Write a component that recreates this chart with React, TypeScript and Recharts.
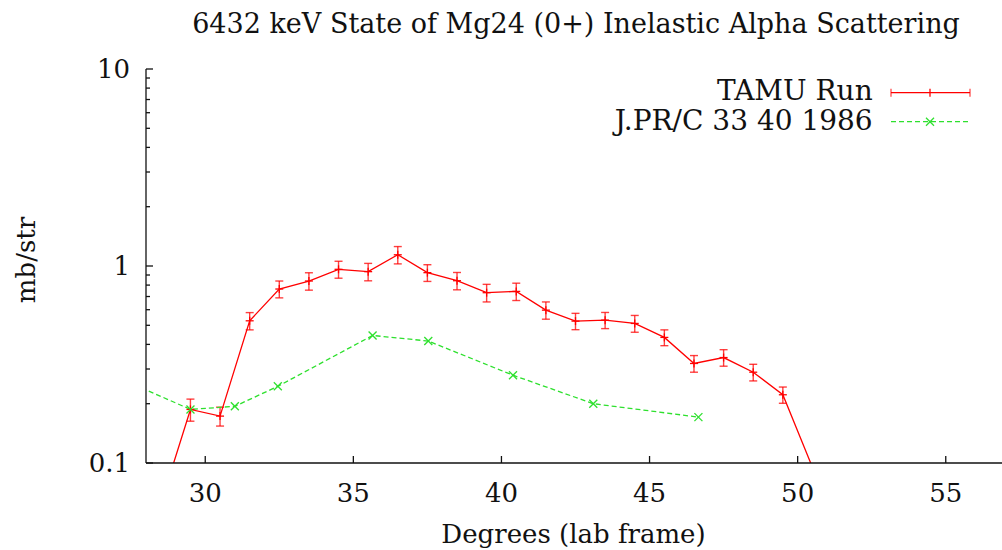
import React from "react";
import { ComposedChart, Line, XAxis, YAxis, ErrorBar, Legend, Label } from "recharts";

// TAMU run, cross sections (mb/str)
const tamuAngle = [28.5, 29.5, 30.5, 31.5, 32.5, 33.5, 34.5, 35.5, 36.5, 37.5, 38.5, 39.5, 40.5, 41.5, 42.5, 43.5, 44.5, 45.5, 46.5, 47.5, 48.5, 49.5, 50.5];
const tamuValue = [0.062, 0.187, 0.173, 0.527, 0.764, 0.839, 0.962, 0.936, 1.14, 0.925, 0.842, 0.732, 0.743, 0.597, 0.525, 0.531, 0.511, 0.434, 0.32, 0.343, 0.289, 0.222, 0.095];
// error bars of the two points below the frame are not visible
const tamuError = [null, 0.024, 0.019, 0.053, 0.075, 0.085, 0.095, 0.095, 0.115, 0.09, 0.085, 0.075, 0.075, 0.06, 0.05, 0.05, 0.05, 0.04, 0.031, 0.033, 0.028, 0.021, null];

// J.PR/C 33 40 1986 reference data
const jprcAngle = [27.6, 29.5, 31.0, 32.45, 35.65, 37.53, 40.39, 43.1, 46.65];
const jprcValue = [0.25, 0.187, 0.194, 0.245, 0.444, 0.416, 0.279, 0.2, 0.171];

const xTicks = [30, 35, 40, 45, 50, 55];
const yTicks = [0.1, 0.2, 0.3, 0.4, 0.5, 0.6, 0.7, 0.8, 0.9, 1, 2, 3, 4, 5, 6, 7, 8, 9, 10];
const seriesNames = ["TAMU Run", "J.PR/C 33 40 1986"];

const TITLE = "6432 keV State of Mg24 (0+) Inelastic Alpha Scattering";
const X_LABEL = "Degrees (lab frame)";
const Y_LABEL = "mb/str";

const tamuData = tamuAngle.map((a, i) => ({ angle: a, value: tamuValue[i], err: tamuError[i] }));
const jprcData = jprcAngle.map((a, i) => ({ angle: a, value: jprcValue[i] }));

const FONT = "'DejaVu Serif', serif";
const FS = 26;
const RED = "#ff0000";
const GREEN = "#2ee02e";
const INK = "#111";

const isDecade = (v: number) => {
  const l = Math.log10(v);
  return Math.abs(l - Math.round(l)) < 1e-6;
};

const BottomTick = (props: any) => {
  const { x, y, payload } = props;
  return (
    <g>
      <line x1={x} y1={y} x2={x} y2={y - 7} stroke={INK} strokeWidth={1.3} />
      <text x={x} y={y + 39} textAnchor="middle" fontFamily={FONT} fontSize={FS} fill={INK}>
        {payload.value}
      </text>
    </g>
  );
};

const TopTick = (props: any) => {
  const { x, y } = props;
  return <line x1={x} y1={y} x2={x} y2={y + 7} stroke={INK} strokeWidth={1.3} />;
};

const LeftTick = (props: any) => {
  const { x, y, payload } = props;
  const major = isDecade(payload.value);
  return (
    <g>
      <line x1={x} y1={y} x2={x + (major ? 7 : 4)} y2={y} stroke={INK} strokeWidth={1.3} />
      {major && (
        <text x={x - 16} y={y + 9} textAnchor="end" fontFamily={FONT} fontSize={FS} fill={INK}>
          {payload.value}
        </text>
      )}
    </g>
  );
};

const RightTick = (props: any) => {
  const { x, y, payload } = props;
  const major = isDecade(payload.value);
  return <line x1={x} y1={y} x2={x - (major ? 7 : 4)} y2={y} stroke={INK} strokeWidth={1.3} />;
};

const PlusDot = (props: any) => {
  const { cx, cy, index } = props;
  if (cx == null || cy == null) return <g key={`p-${index}`} />;
  return (
    <g key={`p-${index}`}>
      <line x1={cx - 4} y1={cy} x2={cx + 4} y2={cy} stroke={RED} strokeWidth={1.3} />
      <line x1={cx} y1={cy - 4} x2={cx} y2={cy + 4} stroke={RED} strokeWidth={1.3} />
    </g>
  );
};

const CrossDot = (props: any) => {
  const { cx, cy, index } = props;
  if (cx == null || cy == null) return <g key={`c-${index}`} />;
  return (
    <g key={`c-${index}`}>
      <line x1={cx - 4} y1={cy - 4} x2={cx + 4} y2={cy + 4} stroke={GREEN} strokeWidth={1.3} />
      <line x1={cx - 4} y1={cy + 4} x2={cx + 4} y2={cy - 4} stroke={GREEN} strokeWidth={1.3} />
    </g>
  );
};

const renderLegend = (props: any) => {
  const payload = [...(props.payload || [])].sort(
    (a: any, b: any) => seriesNames.indexOf(a.value) - seriesNames.indexOf(b.value)
  );
  return (
    <svg width={420} height={70} style={{ display: "block" }}>
      {payload.map((entry: any, i: number) => {
        const ly = 17.7 + 29 * i;
        const ty = 25 + 30 * i;
        const red = entry.value === seriesNames[0];
        return (
          <g key={entry.value}>
            <text x={292.7} y={ty} textAnchor="end" fontFamily={FONT} fontSize={28} fill={INK}>
              {entry.value}
            </text>
            {red ? (
              <g stroke={RED} strokeWidth={1.3}>
                <line x1={311} y1={ly} x2={390} y2={ly} />
                <line x1={311} y1={ly - 4} x2={311} y2={ly + 4} strokeOpacity={0.7} />
                <line x1={390} y1={ly - 4} x2={390} y2={ly + 4} strokeOpacity={0.7} />
                <line x1={350} y1={ly - 4} x2={350} y2={ly + 4} />
              </g>
            ) : (
              <g stroke={GREEN} strokeWidth={1.3}>
                <line x1={311} y1={ly} x2={389} y2={ly} strokeDasharray="5 3" />
                <line x1={346} y1={ly - 4} x2={354} y2={ly + 4} />
                <line x1={346} y1={ly + 4} x2={354} y2={ly - 4} />
              </g>
            )}
          </g>
        );
      })}
    </svg>
  );
};

export default function App() {
  return (
    <div style={{ position: "fixed", left: 0, top: 0, width: 1002, height: 550, overflow: "hidden", background: "#fff" }}>
      <svg width={1002} height={50} style={{ position: "absolute", left: 0, top: 0 }}>
        <text x={576} y={33} textAnchor="middle" fontFamily={FONT} fontSize={27} fill={INK}>
          {TITLE}
        </text>
      </svg>
      <ComposedChart width={1010} height={550} margin={{ top: 69, right: 5, bottom: 0, left: 0 }}>
        <XAxis
          dataKey="angle"
          type="number"
          domain={[28, 57]}
          ticks={xTicks}
          interval={0}
          allowDataOverflow
          height={87}
          tickSize={0}
          tickMargin={0}
          tickLine={false}
          tick={BottomTick}
          axisLine={{ stroke: INK, strokeWidth: 1.3 }}
        >
          <Label
            content={(p: any) => {
              const vb = p.viewBox;
              return (
                <text x={vb.x + vb.width / 2 - 2} y={543} textAnchor="middle" fontFamily={FONT} fontSize={FS} fill={INK}>
                  {X_LABEL}
                </text>
              );
            }}
          />
        </XAxis>
        <XAxis
          xAxisId="top"
          orientation="top"
          dataKey="angle"
          type="number"
          domain={[28, 57]}
          ticks={xTicks}
          interval={0}
          allowDataOverflow
          height={0}
          tickSize={0}
          tickMargin={0}
          tickLine={false}
          tick={TopTick}
          axisLine={{ stroke: INK, strokeWidth: 1.3 }}
        />
        <YAxis
          type="number"
          scale="log"
          domain={[0.1, 10]}
          ticks={yTicks}
          interval={0}
          allowDataOverflow
          width={146}
          tickSize={0}
          tickMargin={0}
          tickLine={false}
          tick={LeftTick}
          axisLine={{ stroke: INK, strokeWidth: 1.3 }}
        >
          <Label
            content={(p: any) => {
              const vb = p.viewBox;
              const cy = vb.y + vb.height / 2 - 6;
              return (
                <text
                  x={35}
                  y={cy}
                  transform={`rotate(-90, 35, ${cy})`}
                  textAnchor="middle"
                  fontFamily={FONT}
                  fontSize={FS}
                  fill={INK}
                >
                  {Y_LABEL}
                </text>
              );
            }}
          />
        </YAxis>
        <YAxis
          yAxisId="right"
          orientation="right"
          type="number"
          scale="log"
          domain={[0.1, 10]}
          ticks={yTicks}
          interval={0}
          allowDataOverflow
          width={0}
          tickSize={0}
          tickMargin={0}
          tickLine={false}
          tick={RightTick}
          axisLine={{ stroke: INK, strokeWidth: 1.3 }}
        />
        <Legend
          layout="vertical"
          align="center"
          verticalAlign="middle"
          content={renderLegend}
          wrapperStyle={{ left: 580, top: 75, width: 420 }}
        />
        <Line
          name={seriesNames[0]}
          data={tamuData}
          dataKey="value"
          type="linear"
          stroke={RED}
          strokeWidth={1.3}
          dot={PlusDot}
          activeDot={false}
          isAnimationActive={false}
        >
          <ErrorBar dataKey="err" direction="y" width={4} stroke={RED} strokeWidth={1.4} strokeOpacity={0.75} isAnimationActive={false} />
        </Line>
        <Line
          name={seriesNames[1]}
          data={jprcData}
          dataKey="value"
          type="linear"
          stroke={GREEN}
          strokeWidth={1.3}
          strokeDasharray="5 3"
          dot={CrossDot}
          activeDot={false}
          isAnimationActive={false}
        />
      </ComposedChart>
    </div>
  );
}
